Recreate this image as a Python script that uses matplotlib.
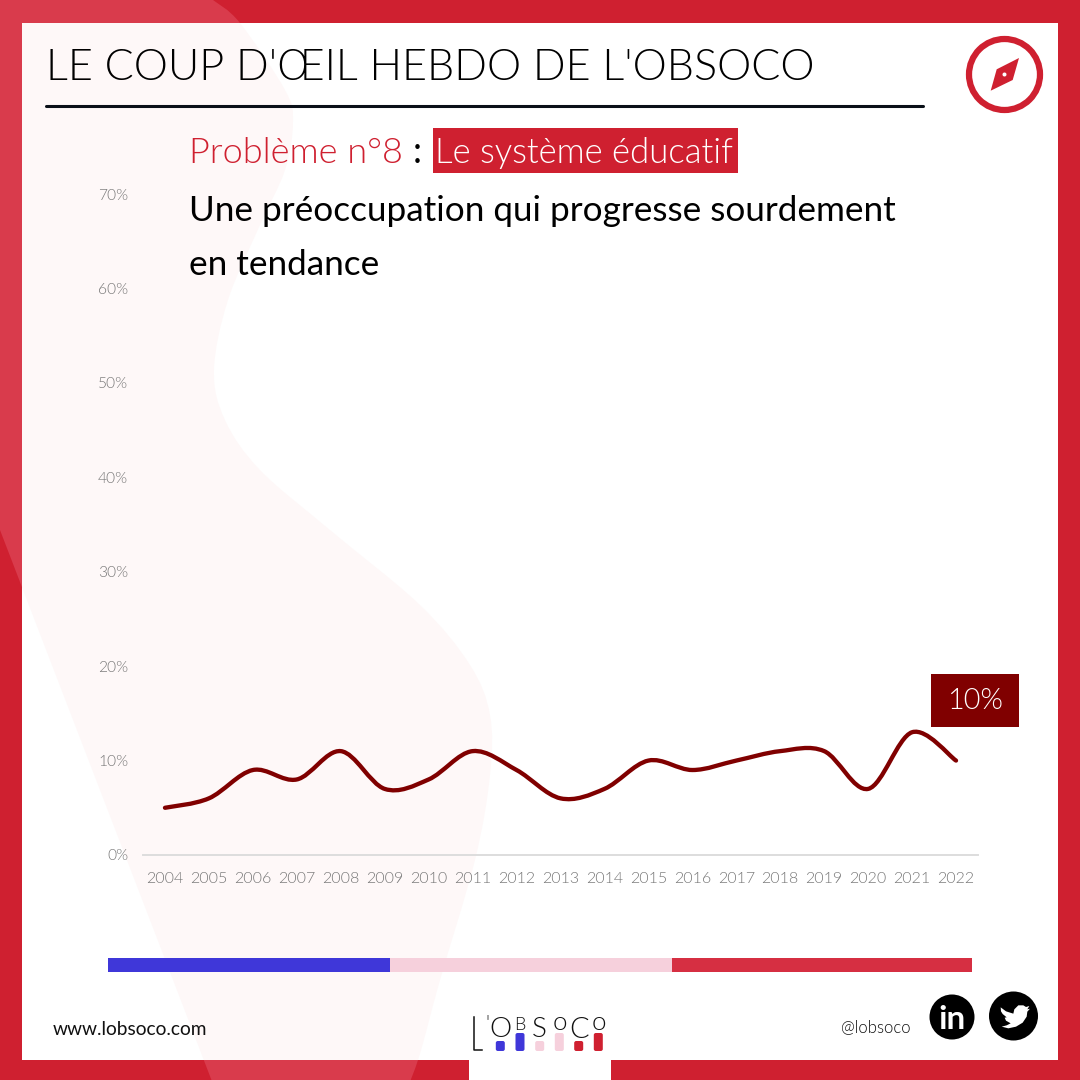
import numpy as np
import matplotlib
matplotlib.use("Agg")
import matplotlib.pyplot as plt
from matplotlib.path import Path
from matplotlib.patches import PathPatch, Circle, Rectangle, FancyBboxPatch, Polygon

# values
years = list(range(2004, 2023))
share = [5, 6, 9, 8, 11, 7, 8, 11, 9, 6, 7, 10, 9, 10, 11, 11, 7, 13, 10]
y_ticks = [0, 10, 20, 30, 40, 50, 60, 70]
last_label = "10%"

RED = "#CF2030"
RED_LIGHT = "#D93B4C"
PALE = "#FEF8F8"
DARK = "#800000"
GREY = "#777777"
BLUE = "#3F37D9"
PINK = "#F6D0DC"
SIZE = 1080
LIGHT = 300  # matplotlib's "light" name picks the hairline cut of Lato

plt.rcParams["font.family"] = ["Lato", "DejaVu Sans"]


def spline_path(x, y):
    # Excel-like smoothed line, through the points
    x = np.asarray(x, dtype=float)
    y = np.asarray(y, dtype=float)
    pts = np.column_stack([x, y])
    verts = [pts[0]]
    codes = [Path.MOVETO]
    for i in range(len(pts) - 1):
        before = pts[max(i - 1, 0)]
        after = pts[min(i + 2, len(pts) - 1)]
        verts += [pts[i] + (pts[i + 1] - before) / 6, pts[i + 1] - (after - pts[i]) / 6, pts[i + 1]]
        codes += [Path.CURVE4] * 3
    return Path(verts, codes)


def blob_path():
    edge = [(213, 0), (240, 23), (285, 90), (293, 122), (285, 170), (260, 225), (228, 300),
            (214, 370), (225, 420), (260, 470), (330, 530), (420, 605), (470, 665),
            (490, 715), (490, 775), (475, 860), (440, 980), (418, 1060), (398, 1110)]
    curve = spline_path([p[0] for p in edge], [p[1] for p in edge])
    verts = list(curve.vertices) + [(223, 1110), (0, 530), (0, 0), (213, 0)]
    codes = list(curve.codes) + [Path.LINETO] * 3 + [Path.CLOSEPOLY]
    return Path(verts, codes)


fig = plt.figure(figsize=(SIZE / 100, SIZE / 100), dpi=100, facecolor="white")
bg = fig.add_axes([0, 0, 1, 1])
bg.set_xlim(0, SIZE)
bg.set_ylim(SIZE, 0)
bg.axis("off")

# frame with the lighter shape running under and over it
frame = Path(
    [(0, 0), (1080, 0), (1080, 1080), (611, 1080), (611, 1060), (1058, 1060), (1058, 23), (22, 23),
     (22, 1060), (469, 1060), (469, 1080), (0, 1080), (0, 0)],
    [Path.MOVETO] + [Path.LINETO] * 11 + [Path.CLOSEPOLY],
)
bg.add_patch(PathPatch(blob_path(), fc=PALE, ec="none", zorder=1))
frame_patch = PathPatch(frame, fc=RED, ec="none", zorder=2)
bg.add_patch(frame_patch)
light = PathPatch(blob_path(), fc=RED_LIGHT, ec="none", zorder=3)
bg.add_patch(light)
light.set_clip_path(frame_patch)

# header
bg.text(46, 80, "LE COUP D'ŒIL HEBDO DE L'OBSOCO", fontsize=31.1, weight=LIGHT, color="black", zorder=5)
bg.plot([46, 923], [106, 106], color="#0A1018", lw=2.2, solid_capstyle="round", zorder=5)

# compass
bg.add_patch(Circle((1004.5, 74.5), 35.5, fc="none", ec=RED, lw=4.5, zorder=5))
bg.add_patch(Polygon([(1019, 58), (1012.7, 80), (990.7, 90.7), (996.7, 69.3)], fc=RED, ec="none", zorder=5))
bg.add_patch(Circle((1004.5, 74.5), 2, fc="white", ec="none", zorder=6))

# headings
bg.text(189, 163, "Problème n°8", fontsize=26, weight=LIGHT, color=RED, zorder=5)
bg.text(413, 163, ":", fontsize=26, color="black", zorder=5)
bg.add_patch(Rectangle((433, 128), 305, 45, fc=RED, ec="none", zorder=4))
bg.text(435, 163, "Le système éducatif", fontsize=25, weight=LIGHT, color="white", zorder=5)
bg.text(189, 221, "Une préoccupation qui progresse sourdement", fontsize=25.3, color="black", zorder=5)
bg.text(189, 275, "en tendance", fontsize=25.3, color="black", zorder=5)

# bottom colour bar
bg.add_patch(Rectangle((108, 958), 282, 14, fc=BLUE, ec="none", zorder=5))
bg.add_patch(Rectangle((390, 958), 282, 14, fc=PINK, ec="none", zorder=5))
bg.add_patch(Rectangle((672, 958), 300, 14, fc="#D62F42", ec="none", zorder=5))

# footer
bg.text(53, 1035, "www.lobsoco.com", fontsize=13.8, color="#111111", zorder=5)
bg.text(841, 1032, "@lobsoco", fontsize=12, weight=LIGHT, color="#111111", zorder=5)

# logo
bg.plot([474, 474, 482], [1017, 1050, 1050], color="#111111", lw=1.1, zorder=5)
bg.text(487, 1030, "'", fontsize=15, weight=LIGHT, ha="center", color="#111111", zorder=5)
logo_letters = [("O", 500, 1037, 28), ("B", 520, 1030, 18), ("S", 539.5, 1037, 28),
                ("o", 559.5, 1030, 26), ("C", 579, 1038, 29), ("o", 599, 1030, 26)]
for letter, lx, ly, fs in logo_letters:
    bg.text(lx, ly, letter, fontsize=fs * 0.72, weight=LIGHT, ha="center", color="#111111", zorder=5)
logo_bars = [(500.3, 8, BLUE), (520, 16, BLUE), (539.7, 8, PINK), (559.3, 16, PINK), (578.7, 8, RED), (598.3, 16, RED)]
for bx, bh, col in logo_bars:
    bg.add_patch(FancyBboxPatch((bx - 3.5, 1050 - bh), 7, bh, boxstyle="round,pad=1,rounding_size=2",
                                fc=col, ec="none", zorder=5))

# social icons
bg.add_patch(Circle((952, 1017), 22.5, fc="black", ec="none", zorder=5))
bg.text(952, 1029, "in", fontsize=24, weight="bold", ha="center", color="white", zorder=6)
bg.add_patch(Circle((1013.5, 1016), 24.5, fc="black", ec="none", zorder=5))
bird = [(602, 112), (618, 124), (640, 131), (643, 118), (655, 106), (670, 106), (678, 111), (688, 108),
        (682, 118), (690, 116), (682, 125), (680, 140), (668, 158), (648, 170), (625, 175), (605, 170),
        (620, 166), (632, 160), (618, 152), (614, 143), (620, 142), (608, 132), (603, 124)]
bg.add_patch(Polygon([(800 + a / 3, 970 + b / 3) for a, b in bird], fc="white", ec="none", zorder=6))

# the chart itself
ax = fig.add_axes([143 / SIZE, 1 - 855 / SIZE, (978 - 143) / SIZE, (855 - 194) / SIZE], zorder=2)
ax.patch.set_alpha(0)
ax.set_xlim(2003.5, 2022.5)
ax.set_ylim(0, 70)
ax.add_patch(PathPatch(spline_path(years, share), fc="none", ec=DARK, lw=3.1, capstyle="round"))
ax.set_xticks(years)
ax.set_xticklabels([str(y) for y in years], fontsize=11.5, color=GREY, weight=LIGHT, va="baseline")
ax.set_yticks(y_ticks)
ax.set_yticklabels([f"{v}%" for v in y_ticks], fontsize=11.2, color=GREY, weight=LIGHT)
ax.tick_params(axis="both", length=0)
ax.tick_params(axis="y", pad=10.8)
ax.tick_params(axis="x", pad=20)
for side in ["top", "left", "right"]:
    ax.spines[side].set_visible(False)
ax.spines["bottom"].set_color("#DDDDDD")
ax.spines["bottom"].set_linewidth(1.4)

# value label of the last year
bg.add_patch(Rectangle((931, 674), 88, 53, fc=DARK, ec="none", zorder=5))
bg.text(975, 701, last_label, fontsize=20.8, weight=LIGHT, color="white", ha="center", va="center", zorder=6)

fig.savefig("out.png", dpi=100)
